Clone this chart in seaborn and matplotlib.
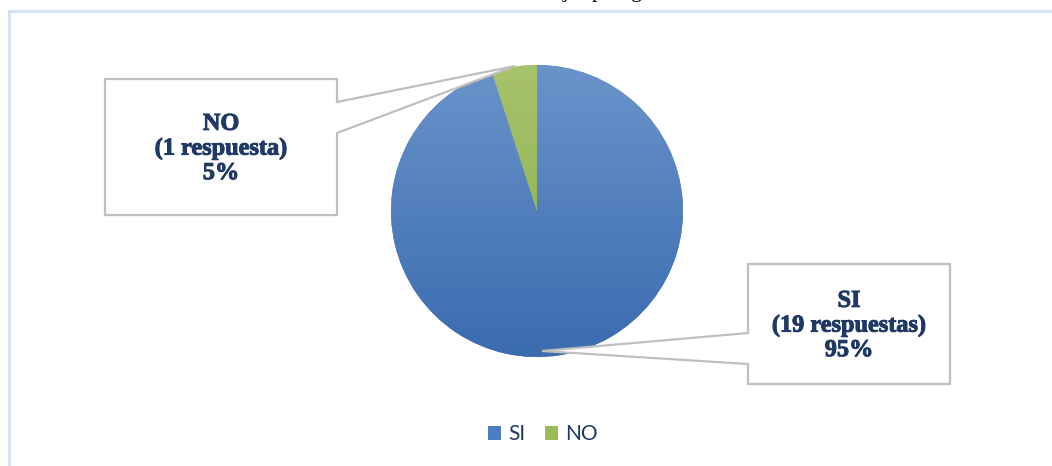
import numpy as np
import matplotlib
matplotlib.use("Agg")
import matplotlib.pyplot as plt
import matplotlib.patheffects as pe
from matplotlib.patches import Polygon, Patch
from matplotlib.lines import Line2D
import seaborn as sns

# Survey answers
categories = ["SI", "NO"]
counts = [19, 1]
count_words = ["respuestas", "respuesta"]

# Vertical shading of each slice (top colour, bottom colour)
slice_shades = {
    "SI": ("#6a93ca", "#3a6cb0"),
    "NO": ("#a7c26c", "#8aae45"),
}
legend_colors = {"SI": "#4a7ec0", "NO": "#9bbb59"}
text_color = "#1f3864"

sns.set_theme(style="white")
plt.rcParams["font.family"] = ["Liberation Serif", "DejaVu Serif"]

W, H = 1052, 466
fig = plt.figure(figsize=(W / 100, H / 100), dpi=100)
ax = fig.add_axes([0, 0, 1, 1])


def Y(py):
    """Convert a top-down pixel row to the axes' bottom-up coordinate."""
    return H - py


cx, cy, r = 537, Y(211), 146
wedges, _ = ax.pie(counts, center=(cx, cy), radius=r, startangle=90,
                   counterclock=False, frame=True,
                   wedgeprops=dict(linewidth=0, edgecolor="none"))

# Shade each wedge with a vertical gradient clipped to its outline
grad = np.linspace(0, 1, 256).reshape(-1, 1)
for w, cat in zip(wedges, categories):
    top, bottom = slice_shades[cat]
    cmap = sns.blend_palette([bottom, top], n_colors=256, as_cmap=True)
    w.set_facecolor(legend_colors[cat])
    im = ax.imshow(grad, cmap=cmap, origin="lower", aspect="auto",
                   extent=(cx - r, cx + r, cy - r, cy + r), zorder=w.get_zorder() + 0.1)
    im.set_clip_path(w)

ax.set_xlim(0, W)
ax.set_ylim(0, H)
ax.set_aspect("equal")
ax.axis("off")

# Callout boxes: (left, top, right, bottom), pointer attachment rows, pointer tip
total = sum(counts)
callouts = {
    "NO": dict(box=(105, 79, 337, 215), side="right", att=(102, 133), tip=(515, 66)),
    "SI": dict(box=(748, 264, 950, 384), side="left", att=(333, 364), tip=(542, 351)),
}
for cat, n, word in zip(categories, counts, count_words):
    c = callouts[cat]
    x0, y0, x1, y1 = c["box"]
    a0, a1 = c["att"]
    tx, ty = c["tip"]
    if c["side"] == "right":
        pts = [(x0, y0), (x1, y0), (x1, a0), (tx, ty), (x1, a1), (x1, y1), (x0, y1)]
    else:
        pts = [(x0, y0), (x1, y0), (x1, y1), (x0, y1), (x0, a1), (tx, ty), (x0, a0)]
    poly = Polygon([(px, Y(py)) for px, py in pts], closed=True,
                   facecolor="white", edgecolor="#bfbfbf", linewidth=1.6, zorder=5)
    ax.add_patch(poly)
    pct = round(100 * n / total)
    ax.text((x0 + x1) / 2, Y((y0 + y1) / 2 + 2),
            f"{cat}\n({n} {word})\n{pct}%",
            ha="center", va="center", multialignment="center",
            fontsize=17.5, fontweight="bold", color=text_color,
            linespacing=1.22, zorder=6,
            path_effects=[pe.withStroke(linewidth=0.7, foreground=text_color)])

# Legend
handles = [Patch(facecolor=legend_colors[c], edgecolor="none") for c in categories]
leg = ax.legend(handles, categories, loc="center", bbox_to_anchor=(543 / W, 1 - 434 / H),
                ncol=2, frameon=False, handlelength=0.65, handleheight=0.65,
                handletextpad=0.35, columnspacing=0.9, borderpad=0,
                prop={"family": "Lato", "size": 15})
for t in leg.get_texts():
    t.set_color(text_color)

# Chart area frame (top and left edges visible)
ax.add_line(Line2D([8.5, 8.5, W], [0, Y(10.5), Y(10.5)], color="#d6e2f3",
                   linewidth=2.2, zorder=1, solid_joinstyle="miter"))

# Caption descenders just above the frame
for ch, px in zip(["j", "p", "g"], [566, 597, 637]):
    ax.text(px, Y(-3), ch, ha="center", va="baseline", fontsize=16,
            color="black", family="Liberation Serif", clip_on=False)

fig.savefig("out.png", dpi=100)
